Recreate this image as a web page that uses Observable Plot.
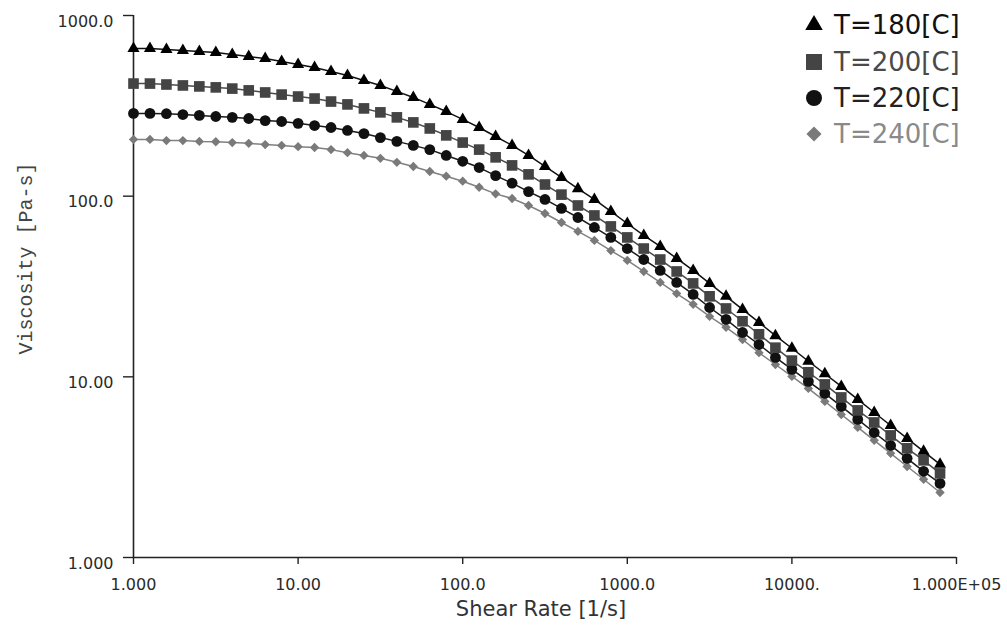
<!DOCTYPE html>
<html><head><meta charset="utf-8">
<script src="https://cdn.jsdelivr.net/npm/d3@7"></script>
<script src="https://cdn.jsdelivr.net/npm/@observablehq/plot@0.6"></script>
<style>
html,body{margin:0;padding:0;background:#fff;}
#wrap{position:relative;width:1007px;height:628px;overflow:hidden;}
#legend{position:absolute;left:0;top:0;font-family:"DejaVu Sans";font-size:26px;}
.row{position:absolute;display:flex;align-items:center;height:36px;white-space:nowrap;}
.row svg{margin-right:8px;}
</style></head><body><div id="wrap"><div id="legend"></div></div>
<script>
// Shear rate samples [1/s]
const shearRate = [
  1, 1.259, 1.585, 1.995, 2.512, 3.162, 3.981, 5.012, 6.310, 7.943,
  10, 12.59, 15.85, 19.95, 25.12, 31.62, 39.81, 50.12, 63.10, 79.43,
  100, 125.9, 158.5, 199.5, 251.2, 316.2, 398.1, 501.2, 631.0, 794.3,
  1000, 1259, 1585, 1995, 2512, 3162, 3981, 5012, 6310, 7943,
  10000, 12589, 15849, 19953, 25119, 31623, 39811, 50119, 63096, 79433
];
// Viscosity [Pa-s] per temperature
const visc180 = [
  657, 657, 648, 640, 632, 624, 608, 593, 578, 556,
  536, 516, 490, 466, 437, 410, 380, 352, 322, 294,
  266, 240, 214, 191, 168, 146, 127, 110, 95.9, 82.3,
  70.6, 60.6, 52.7, 45.2, 38.8, 32.9, 27.9, 23.6, 20.0, 16.9,
  14.4, 12.2, 10.4, 8.85, 7.50, 6.35, 5.38, 4.56, 3.87, 3.28
];
const visc200 = [
  420, 420, 415, 410, 405, 400, 394, 385, 375, 365,
  356, 347, 334, 322, 306, 291, 273, 256, 237, 217,
  198, 181, 164, 148, 132, 116, 102, 88.8, 78.2, 68.0,
  59.1, 51.3, 44.6, 38.3, 32.9, 27.9, 23.9, 20.3, 17.2, 14.5,
  12.3, 10.6, 9.08, 7.69, 6.52, 5.59, 4.74, 4.02, 3.45, 2.92
];
const visc220 = [
  287, 287, 286, 283, 280, 276, 273, 269, 262, 259,
  253, 246, 240, 231, 222, 211, 201, 191, 181, 168,
  156, 144, 130, 118, 106, 95.9, 85.5, 76.2, 67.1, 59.1,
  51.3, 44.6, 38.8, 33.3, 28.6, 24.2, 20.8, 17.6, 15.1, 12.8,
  11.0, 9.43, 8.09, 6.86, 5.81, 4.92, 4.17, 3.54, 3.00, 2.57
];
const visc240 = [
  206, 206, 203, 203, 201, 200, 198, 196, 193, 191,
  188, 186, 181, 174, 168, 162, 154, 146, 137, 129,
  121, 112, 103, 97.1, 88.8, 80.2, 71.5, 63.8, 56.9, 50.0,
  44.1, 38.3, 33.3, 28.9, 25.2, 21.6, 18.8, 16.1, 13.6, 11.7,
  10.05, 8.63, 7.31, 6.19, 5.25, 4.45, 3.77, 3.19, 2.71, 2.29
];
const seriesNames = ["T=180[C]", "T=200[C]", "T=220[C]", "T=240[C]"];
const seriesValues = [visc180, visc200, visc220, visc240];
const seriesSymbols = ["triangle", "square", "circle", "diamond2"];
const markerColors = ["#000000", "#444444", "#111111", "#7a7a7a"];
const lineColors = ["#111111", "#4a4a4a", "#1a1a1a", "#808080"];
const textColors = ["#111111", "#4a4a4a", "#222222", "#8a8a8a"];
const markerR = [4.5, 6.0, 5.4, 4.2];
const legendR = [6.5, 9.0, 8.0, 6.8];

const xTicks = [1, 10, 100, 1000, 10000, 100000];
const xTickLabels = ["1.000", "10.00", "100.0", "1000.0", "10000.", "1.000E+05"];
const yTicks = [1, 10, 100, 1000];
const yTickLabels = ["1.000", "10.00", "100.0", "1000.0"];
const xTitle = "Shear Rate [1/s]";
const yTitle = "Viscosity [Pa-s]";

const rows = [];
seriesNames.forEach((name, s) => {
  shearRate.forEach((r, i) => rows.push({series: name, rate: r, visc: seriesValues[s][i]}));
});

const marks = [
  Plot.ruleX([1], {stroke: "#222", strokeWidth: 1.6}),
  Plot.ruleY([1], {stroke: "#222", strokeWidth: 1.6}),
  Plot.axisY({ticks: yTicks, tickSize: 10, text: null, label: null, stroke: "#222", strokeWidth: 1.4}),
  Plot.axisY({ticks: yTicks, tickSize: 0, tickPadding: 20, dy: 6, label: null,
    tickFormat: d => yTickLabels[yTicks.indexOf(d)], fill: "#2a2a2a"}),
  Plot.axisX({ticks: xTicks, tickSize: 7, tickPadding: 14, label: null,
    tickFormat: d => xTickLabels[xTicks.indexOf(d)], stroke: "#222", strokeWidth: 1.4, fill: "#2a2a2a"}),
  Plot.text([xTitle], {text: d => d, frameAnchor: "bottom", dy: 58, dx: -4,
    fontSize: 21, fill: "#333", fontFamily: "DejaVu Sans"}),
  Plot.text([yTitle], {text: d => d, frameAnchor: "left", rotate: -90, dx: -108, dy: -28,
    textAnchor: "middle", fontSize: 20, fill: "#444", fontFamily: "Liberation Mono"})
];
for (let s = seriesNames.length - 1; s >= 0; s--) {
  const data = rows.filter(d => d.series === seriesNames[s]);
  marks.push(Plot.line(data, {x: "rate", y: "visc", stroke: lineColors[s], strokeWidth: 1.5}));
  marks.push(Plot.dot(data, {x: "rate", y: "visc", symbol: seriesSymbols[s], r: markerR[s],
    fill: markerColors[s], stroke: "none"}));
}

const chart = Plot.plot({
  width: 1007, height: 628,
  marginLeft: 133, marginRight: 51, marginTop: 15, marginBottom: 71,
  style: {fontFamily: "DejaVu Sans", fontSize: "16px", color: "#222", background: "#fff"},
  x: {type: "log", domain: [1, 100000]},
  y: {type: "log", domain: [1, 1000]},
  marks
});
document.getElementById("wrap").prepend(chart);

// Legend
const legend = document.getElementById("legend");
const legendCenters = [25, 62, 98, 134];
const symMap = {triangle: d3.symbolTriangle, square: d3.symbolSquare, circle: d3.symbolCircle, diamond2: d3.symbolDiamond2};
seriesNames.forEach((name, s) => {
  const row = document.createElement("div");
  row.className = "row";
  row.style.left = "802px";
  row.style.top = (legendCenters[s] - 18) + "px";
  const path = d3.symbol(symMap[seriesSymbols[s]], Math.PI * legendR[s] * legendR[s])();
  row.innerHTML = `<svg width="24" height="24" viewBox="-12 -12 24 24"><path d="${path}" fill="${markerColors[s]}"/></svg><span style="color:${textColors[s]}">${name}</span>`;
  legend.appendChild(row);
});
</script>
</body></html>
